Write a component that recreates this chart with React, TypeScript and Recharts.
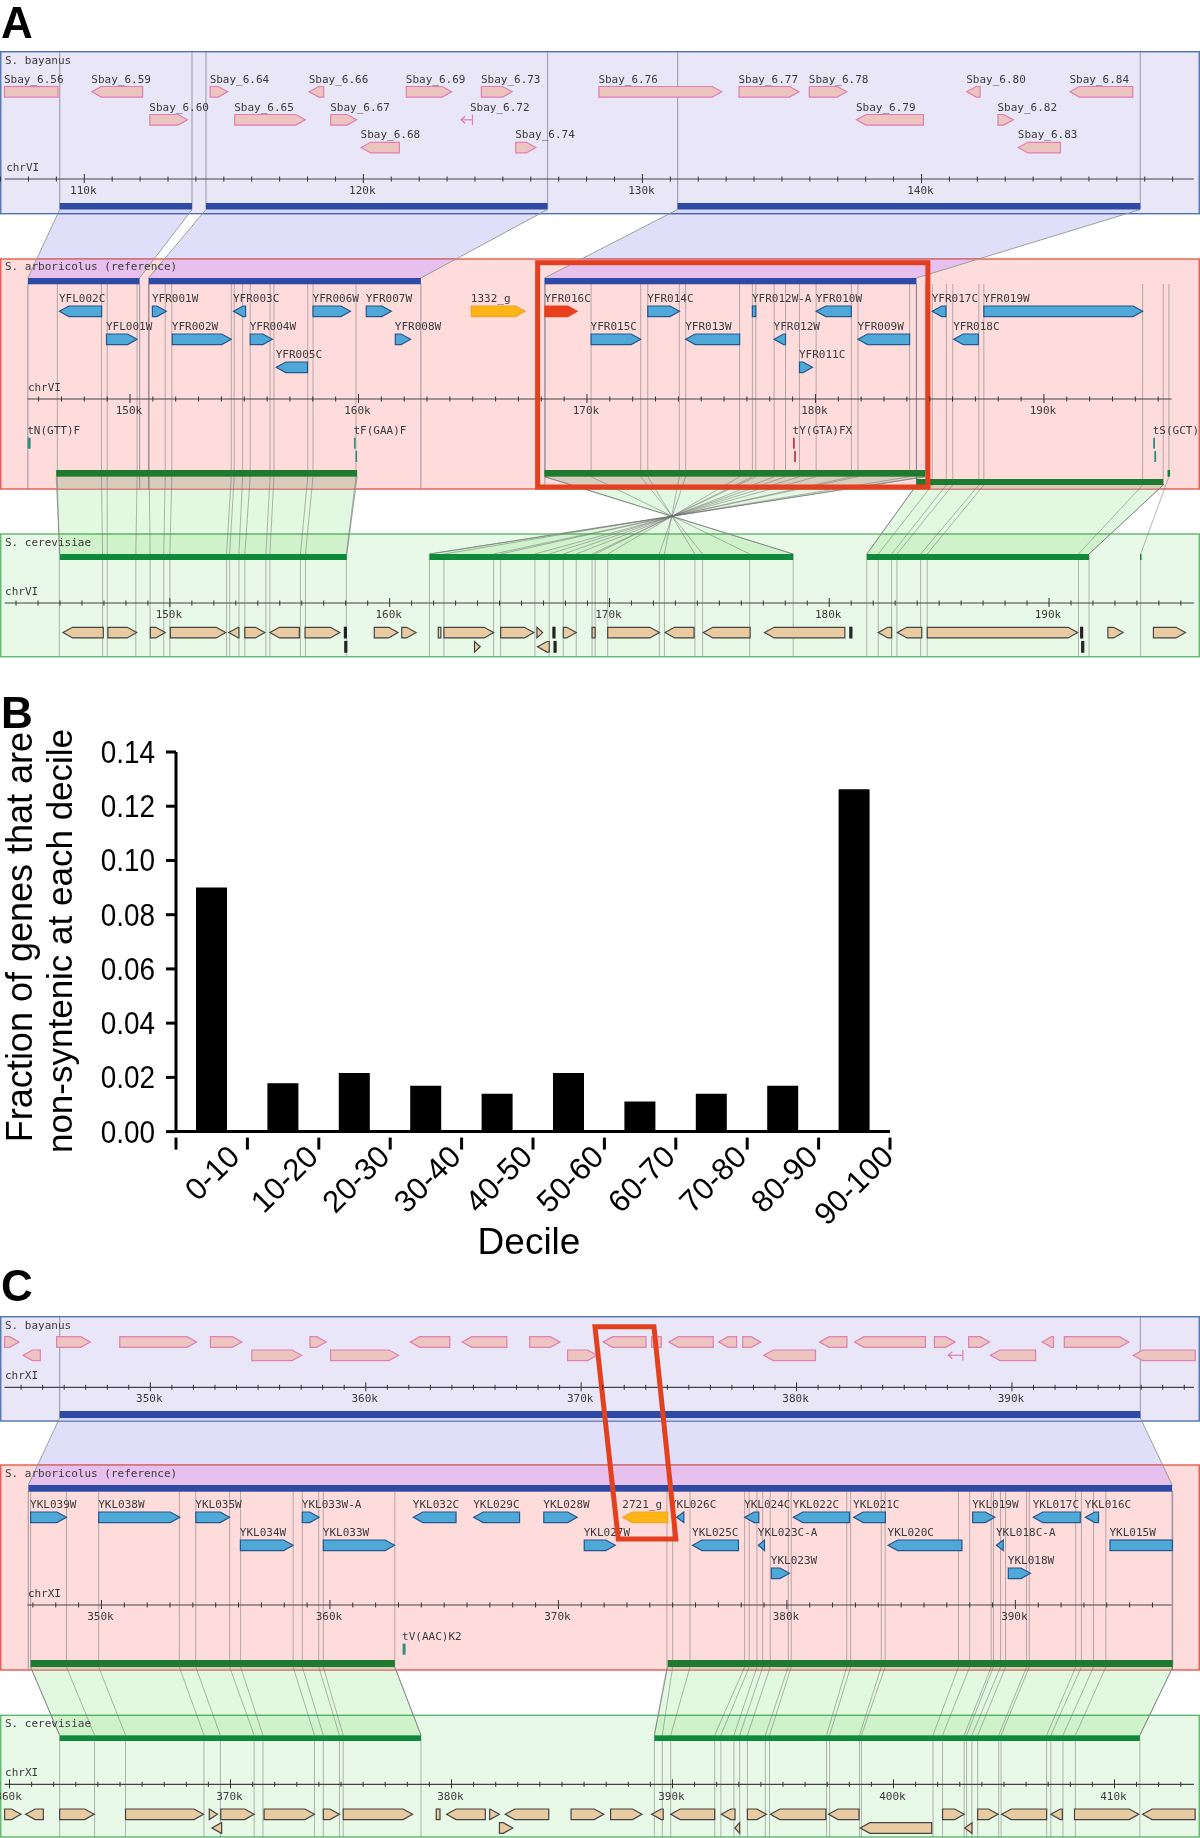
import React from "react";
import {
  Bar,
  BarChart,
  ComposedChart,
  ReferenceArea,
  XAxis,
  YAxis,
} from "recharts";

// ---- panel B values
const deciles = ["0-10", "10-20", "20-30", "30-40", "40-50", "50-60", "60-70", "70-80", "80-90", "90-100"];
const fractions = [0.09, 0.0178, 0.0216, 0.0169, 0.014, 0.0216, 0.0111, 0.014, 0.0169, 0.1263];
const fractionTicks = [0, 0.02, 0.04, 0.06, 0.08, 0.1, 0.12, 0.14];

// ---- genes: [name, start kb, end kb, strand, lane, label kb (optional)]
type Gene = [string, number, number, string, number, number?];

const bayGenesA: Gene[] = [
  ["Sbay_6.56", 107.14, 109.06, ".", 0],
  ["Sbay_6.59", 110.27, 112.09, "-", 0],
  ["Sbay_6.60", 112.35, 113.7, "+", 1],
  ["Sbay_6.64", 114.51, 115.14, "+", 0],
  ["Sbay_6.65", 115.39, 117.92, "+", 1],
  ["Sbay_6.66", 118.06, 118.58, "-", 0],
  ["Sbay_6.67", 118.83, 119.76, "+", 1],
  ["Sbay_6.68", 119.92, 121.29, "-", 2],
  ["Sbay_6.69", 121.54, 123.16, "+", 0],
  ["Sbay_6.72", 123.5, 123.91, "t", 1, 123.82],
  ["Sbay_6.73", 124.23, 125.33, "+", 0],
  ["Sbay_6.74", 125.46, 126.18, "+", 2],
  ["Sbay_6.76", 128.44, 132.84, "+", 0],
  ["Sbay_6.77", 133.46, 135.61, "+", 0],
  ["Sbay_6.78", 135.98, 137.32, "+", 0],
  ["Sbay_6.79", 137.67, 140.07, "-", 1],
  ["Sbay_6.80", 141.62, 142.1, "-", 0],
  ["Sbay_6.82", 142.74, 143.29, "+", 1],
  ["Sbay_6.83", 143.47, 144.98, "-", 2],
  ["Sbay_6.84", 145.32, 147.57, "-", 0],
];

const arbGenesA: Gene[] = [
  ["YFL002C", 146.91, 148.76, "-", 0],
  ["YFL001W", 148.97, 150.31, "+", 1],
  ["YFR001W", 150.98, 151.59, "+", 0],
  ["YFR002W", 151.85, 154.43, "+", 1],
  ["YFR003C", 154.53, 155.06, "-", 0],
  ["YFR004W", 155.26, 156.23, "+", 1],
  ["YFR005C", 156.4, 157.77, "-", 2],
  ["YFR006W", 158.01, 159.65, "+", 0],
  ["YFR007W", 160.34, 161.44, "+", 0],
  ["YFR008W", 161.61, 162.28, "+", 1],
  ["1332_g", 164.94, 167.29, "+", 0],
  ["YFR016C", 168.16, 169.57, "+", 0],
  ["YFR015C", 170.18, 172.35, "+", 1],
  ["YFR014C", 172.66, 174.05, "+", 0],
  ["YFR013W", 174.32, 176.68, "-", 1],
  ["YFR012W-A", 177.24, 177.39, ".", 0],
  ["YFR012W", 178.19, 178.69, "-", 1],
  ["YFR010W", 180.03, 181.57, "-", 0],
  ["YFR011C", 179.3, 179.87, "+", 2],
  ["YFR009W", 181.86, 184.12, "-", 1],
  ["YFR017C", 185.11, 185.71, "-", 0],
  ["YFR018C", 186.05, 187.13, "-", 1],
  ["YFR019W", 187.37, 194.32, "+", 0],
];

const cerGenesA: Gene[] = [
  ["", 145.14, 146.97, "-", 0],
  ["", 147.18, 148.49, "+", 0],
  ["", 149.11, 149.79, "+", 0],
  ["", 150.02, 152.54, "+", 0],
  ["", 152.68, 153.14, "-", 0],
  ["", 153.41, 154.32, "+", 0],
  ["", 154.55, 155.89, "-", 0],
  ["", 156.15, 157.73, "+", 0],
  ["", 157.94, 158.03, "|", 0],
  ["", 157.96, 158.05, "|", 1],
  ["", 159.3, 160.38, "+", 0],
  ["", 160.55, 161.2, "+", 0],
  ["", 162.21, 162.33, ".", 0],
  ["", 162.47, 164.73, "+", 0],
  ["", 163.86, 164.12, "+", 1],
  ["", 165.05, 166.56, "+", 0],
  ["", 166.7, 166.96, "+", 0],
  ["", 166.73, 167.26, "-", 1],
  ["", 167.43, 167.52, "|", 0],
  ["", 167.48, 167.57, "|", 1],
  ["", 167.9, 168.49, "+", 0],
  ["", 169.21, 169.35, ".", 0],
  ["", 169.92, 172.27, "+", 0],
  ["", 172.53, 173.85, "-", 0],
  ["", 174.27, 176.4, "-", 0],
  ["", 177.06, 180.71, "-", 0],
  ["", 180.94, 181.03, "|", 0],
  ["", 182.23, 182.84, "-", 0],
  ["", 183.1, 184.21, "-", 0],
  ["", 184.46, 191.3, "+", 0],
  ["", 191.44, 191.53, "|", 0],
  ["", 191.49, 191.58, "|", 1],
  ["", 192.68, 193.37, "+", 0],
  ["", 194.75, 196.21, "+", 0],
];

const bayGenesC: Gene[] = [
  ["", 343.23, 343.91, "+", 0],
  ["", 345.65, 347.21, "+", 0],
  ["", 348.58, 352.14, "+", 0],
  ["", 352.79, 354.25, "+", 0],
  ["", 357.41, 358.16, "+", 0],
  ["", 362.07, 363.9, "-", 0],
  ["", 364.48, 366.55, "-", 0],
  ["", 367.61, 369.01, "+", 0],
  ["", 344.09, 344.89, "-", 1],
  ["", 354.71, 357.02, "+", 1],
  ["", 358.37, 361.52, "+", 1],
  ["", 369.37, 370.74, "+", 1],
  ["", 371.02, 373.01, "-", 0],
  ["", 373.27, 373.72, ".", 0],
  ["", 374.07, 376.13, "-", 0],
  ["", 376.38, 377.22, "-", 0],
  ["", 377.5, 378.34, "+", 0],
  ["", 381.07, 382.34, "-", 0],
  ["", 382.69, 385.98, "-", 0],
  ["", 386.4, 387.36, "+", 0],
  ["", 387.99, 388.96, "+", 0],
  ["", 391.4, 391.93, "-", 0],
  ["", 392.43, 395.43, "+", 0],
  ["", 378.48, 380.88, "-", 1],
  ["", 387.04, 387.72, "t", 1],
  ["", 389.0, 391.1, "-", 1],
  ["", 395.63, 398.51, "-", 1],
];

const arbGenesC: Gene[] = [
  ["YKL039W", 346.9, 348.47, "+", 0],
  ["YKL038W", 349.88, 353.43, "+", 0],
  ["YKL035W", 354.13, 355.61, "+", 0],
  ["YKL034W", 356.08, 358.39, "+", 1],
  ["YKL033W-A", 358.79, 359.53, "+", 0],
  ["YKL033W", 359.71, 362.83, "+", 1],
  ["YKL032C", 363.65, 365.52, "-", 0],
  ["YKL029C", 366.29, 368.3, "-", 0],
  ["YKL028W", 369.36, 370.82, "+", 0],
  ["YKL027W", 371.13, 372.49, "+", 1],
  ["2721_g", 372.82, 374.78, "-", 0],
  ["YKL026C", 375.17, 375.49, "-", 0, 374.88],
  ["YKL025C", 375.87, 377.88, "-", 1],
  ["YKL024C", 378.15, 378.77, "-", 0],
  ["YKL023C-A", 378.75, 379.02, "-", 1],
  ["YKL023W", 379.32, 380.11, "+", 2],
  ["YKL022C", 380.28, 382.74, "-", 0],
  ["YKL021C", 382.92, 384.31, "-", 0],
  ["YKL020C", 384.43, 387.66, "-", 1],
  ["YKL019W", 388.13, 389.1, "+", 0],
  ["YKL018C-A", 389.17, 389.47, "-", 1],
  ["YKL018W", 389.69, 390.66, "+", 2],
  ["YKL017C", 390.78, 392.84, "-", 0],
  ["YKL016C", 393.06, 393.64, "-", 0],
  ["YKL015W", 394.14, 396.87, ".", 1],
];

const cerGenesC: Gene[] = [
  ["", 359.78, 360.52, "+", 0],
  ["", 360.73, 361.53, "-", 0],
  ["", 362.27, 363.83, "+", 0],
  ["", 365.25, 368.78, "+", 0],
  ["", 369.04, 369.41, "+", 0],
  ["", 369.56, 371.07, "+", 0],
  ["", 371.52, 373.8, "+", 0],
  ["", 374.2, 374.93, "+", 0],
  ["", 375.1, 378.24, "+", 0],
  ["", 379.31, 379.48, ".", 0],
  ["", 379.78, 381.53, "-", 0],
  ["", 381.73, 382.17, "+", 0],
  ["", 382.43, 384.4, "-", 0],
  ["", 385.41, 386.89, "+", 0],
  ["", 387.2, 388.62, "+", 0],
  ["", 389.06, 389.58, "-", 0],
  ["", 389.92, 391.91, "-", 0],
  ["", 392.21, 392.83, "-", 0],
  ["", 393.39, 394.25, "+", 0],
  ["", 394.43, 396.94, "-", 0],
  ["", 397.06, 398.44, "-", 0],
  ["", 402.22, 403.2, "+", 0],
  ["", 403.81, 404.73, "+", 0],
  ["", 404.9, 406.93, "-", 0],
  ["", 407.12, 407.64, "-", 0],
  ["", 408.19, 411.1, "+", 0],
  ["", 411.27, 413.65, "-", 0],
  ["", 369.16, 369.6, "-", 1],
  ["", 382.17, 382.77, "+", 1],
  ["", 392.82, 393.04, "-", 1],
  ["", 398.5, 401.73, "-", 1],
  ["", 403.22, 403.55, "-", 1],
];

// tRNA marks: [name, start kb, end kb, lane, kind]
type Trna = [string, number, number, number, string];
const trnasA: Trna[] = [
  ["tN(GTT)F", 145.52, 145.65, 0, "t"],
  ["tF(GAA)F", 159.8, 159.87, 0, "t"],
  ["", 159.87, 159.94, 1, "t"],
  ["tY(GTA)FX", 179.02, 179.09, 0, "r"],
  ["", 179.07, 179.14, 1, "r"],
  ["tS(GCT)", 194.78, 194.86, 0, "t"],
  ["", 194.83, 194.91, 1, "t"],
];
const trnasC: Trna[] = [["tV(AAC)K2", 363.18, 363.31, 0, "t"]];

// synteny blocks: [start kb, end kb, level]
type Block = [number, number, number];
const bayBlocksA: Block[] = [[109.12, 113.86, 0], [114.36, 126.6, 0], [131.26, 147.84, 0]];
const arbTopBlocksA: Block[] = [[145.53, 150.42, 0], [150.81, 162.73, 0], [168.14, 184.42, 0]];
const arbLowBlocksA: Block[] = [[146.77, 159.94, 0], [168.14, 184.81, 0], [184.42, 195.22, 1], [195.41, 195.52, 0]];
const cerBlocksA: Block[] = [[144.99, 158.05, 0], [161.81, 178.36, 0], [181.71, 191.82, 0], [194.14, 194.21, 0]];
const bayBlocksC: Block[] = [[345.79, 395.96, 0]];
const arbTopBlocksC: Block[] = [[346.8, 396.86, 0]];
const arbLowBlocksC: Block[] = [[346.9, 362.84, 0], [374.78, 396.89, 0]];
const cerBlocksC: Block[] = [[362.27, 378.62, 0], [389.18, 411.15, 0]];

// ribbons between tracks: [upper start, upper end, lower start, lower end, level]
type Link = [number, number, number, number, number];
const bayArbLinksA: Link[] = [
  [109.12, 113.86, 145.53, 150.42, 0],
  [114.36, 126.6, 150.81, 162.73, 0],
  [131.26, 147.84, 168.14, 184.42, 0],
];
const arbCerLinksA: Link[] = [
  [146.77, 159.94, 144.99, 158.05, 0],
  [168.14, 184.81, 178.36, 161.81, 0],
  [184.42, 195.22, 181.71, 191.82, 1],
];
const bayArbLinksC: Link[] = [[345.79, 395.96, 346.8, 396.86, 0]];
const arbCerLinksC: Link[] = [
  [346.9, 362.84, 362.27, 378.62, 0],
  [374.78, 396.89, 389.18, 411.15, 0],
];

// orthologous boundaries: [arboricolus kb, cerevisiae kb, level]
const orthologsA: [number, number, number][] = [
  [146.82, 144.97, 0], [148.75, 146.94, 0], [149.0, 147.15, 0], [150.31, 148.45, 0],
  [150.84, 149.1, 0], [151.54, 149.72, 0], [151.83, 150.0, 0], [154.43, 152.58, 0],
  [154.56, 152.72, 0], [154.93, 153.14, 0], [155.26, 153.41, 0], [156.13, 154.37, 0],
  [156.3, 154.55, 0], [157.78, 155.94, 0], [158.01, 156.17, 0], [159.89, 158.03, 0],
  [168.16, 178.36, 0], [170.18, 176.38, 0], [172.35, 174.24, 0], [172.66, 173.89, 0],
  [174.04, 172.5, 0], [174.32, 172.27, 0], [176.68, 169.92, 0], [177.24, 169.35, 0],
  [177.39, 169.21, 0], [178.19, 168.49, 0], [178.69, 167.9, 0], [179.3, 167.26, 0],
  [180.03, 166.61, 0], [181.57, 165.05, 0], [181.86, 164.73, 0], [184.12, 162.47, 0],
  [184.81, 161.81, 0],
  [184.42, 181.71, 1], [185.11, 182.23, 1], [185.73, 182.84, 1], [186.01, 183.08, 1],
  [187.15, 184.16, 1], [187.37, 184.46, 1], [194.32, 191.34, 1], [195.22, 191.82, 1],
  [195.47, 194.17, 0],
];
const orthologsC: [number, number, number][] = [
  [346.9, 362.27, 0], [348.47, 363.85, 0], [349.88, 365.25, 0], [353.41, 368.8, 0],
  [354.13, 369.54, 0], [355.61, 371.07, 0], [356.09, 371.47, 0], [358.39, 373.8, 0],
  [358.79, 374.2, 0], [359.51, 374.93, 0], [359.71, 375.1, 0], [362.84, 378.62, 0],
  [374.75, 389.18, 0], [375.0, 389.54, 0], [375.76, 389.92, 0], [378.15, 391.91, 0],
  [378.35, 392.19, 0], [378.69, 392.78, 0], [378.94, 393.04, 0], [379.27, 393.39, 0],
  [380.06, 394.2, 0], [380.19, 394.39, 0], [382.62, 396.97, 0], [382.79, 397.11, 0],
  [384.13, 398.46, 0], [384.3, 398.55, 0], [387.51, 401.79, 0], [388.0, 402.22, 0],
  [388.94, 403.2, 0], [389.04, 403.31, 0], [389.35, 403.55, 0], [389.57, 403.81, 0],
  [390.49, 404.76, 0], [390.61, 404.87, 0], [392.64, 406.93, 0], [392.89, 407.12, 0],
  [393.42, 407.67, 0], [393.96, 408.23, 0], [396.89, 411.15, 0],
];

const W = 1200;
const MONO = "'DejaVu Sans Mono', monospace";
const SANS = "'Liberation Sans', Arial, sans-serif";

const kbTicks = (from: number, to: number) => {
  const out: number[] = [];
  for (let k = from; k <= to; k++) out.push(k);
  return out;
};

const PALETTES: any = {
  bay: { fill: "#ecc4c0", stroke: "#e07fb0", panel: "#e9e6f8", edge: "#4f74b4", bar: "#2f4aa4" },
  arb: { fill: "#4ea8d8", stroke: "#25568c", panel: "#ffdcdc", edge: "#e65a50", bar: "#2f4aa4" },
  cer: { fill: "#e8cba0", stroke: "#444444", panel: "#e9f9e7", edge: "#5cb86c", bar: "#0e8a3a" },
};

const makeTrack = (o: any) => ({ ...o, pal: PALETTES[o.kind] });

const bayA = makeTrack({
  id: "bayA", kind: "bay", title: "S. bayanus", chr: "chrVI", domain: [106.98, 149.98],
  box: [51.7, 213.7], titleY: 64, rows: [86.5, 114.5, 142.3], chrY: 171, rulerY: 179, tickY: 194,
  chrKb: 107.2, ruler: [107.15, 149.76], ticks: kbTicks(107, 149), majors: [110, 120, 130, 140],
  genes: bayGenesA, blocks: bayBlocksA, blockY: [[203, 209.5]],
});
const arbA = makeTrack({
  id: "arbA", kind: "arb", title: "S. arboricolus (reference)", chr: "chrVI", domain: [144.31, 196.83],
  box: [259, 489], titleY: 270, rows: [306, 334, 362], chrY: 391, rulerY: 399, tickY: 414,
  chrKb: 145.53, ruler: [145.51, 195.59], ticks: kbTicks(146, 195), majors: [150, 160, 170, 180, 190],
  genes: arbGenesA, blocks: arbTopBlocksA, blockY: [[278, 284.3]],
  lowBlocks: arbLowBlocksA, lowY: [[470, 476.7], [479, 485]], trnas: trnasA, trnaLabelY: 434, trnaY: [437.7, 451],
});
const cerA = makeTrack({
  id: "cerA", kind: "cer", title: "S. cerevisiae", chr: "chrVI", domain: [142.27, 196.87],
  box: [534, 656.7], titleY: 546, rows: [627.3, 641.5], chrY: 595, rulerY: 603, tickY: 618,
  chrKb: 142.5, ruler: [142.48, 196.6], ticks: kbTicks(143, 196), majors: [150, 160, 170, 180, 190],
  genes: cerGenesA, blocks: cerBlocksA, blockY: [[554, 560]],
});
const bayC = makeTrack({
  id: "bayC", kind: "bay", title: "S. bayanus", chr: "chrXI", domain: [343.02, 398.73],
  box: [1316.7, 1421], titleY: 1329, rows: [1336.7, 1350], chrY: 1379, rulerY: 1387.3, tickY: 1402,
  chrKb: 343.25, ruler: [343.23, 398.45], ticks: kbTicks(344, 398), majors: [350, 360, 370, 380, 390],
  genes: bayGenesC, blocks: bayBlocksC, blockY: [[1411, 1418]],
});
const arbC = makeTrack({
  id: "arbC", kind: "arb", title: "S. arboricolus (reference)", chr: "chrXI", domain: [345.56, 398.08],
  box: [1465, 1670], titleY: 1477, rows: [1512, 1540, 1568], chrY: 1597, rulerY: 1605, tickY: 1620,
  chrKb: 346.78, ruler: [346.76, 396.84], ticks: kbTicks(347, 396), majors: [350, 360, 370, 380, 390],
  genes: arbGenesC, blocks: arbTopBlocksC, blockY: [[1485, 1491.7]],
  lowBlocks: arbLowBlocksC, lowY: [[1660, 1667]], trnas: trnasC, trnaLabelY: 1640, trnaY: [1643.7],
});
const cerC = makeTrack({
  id: "cerC", kind: "cer", title: "S. cerevisiae", chr: "chrXI", domain: [359.57, 413.87],
  box: [1715.3, 1837], titleY: 1727, rows: [1809, 1822.7], chrY: 1776, rulerY: 1784.3, tickY: 1800,
  chrKb: 359.8, ruler: [359.78, 413.6], ticks: kbTicks(360, 413), majors: [360, 370, 380, 390, 400, 410],
  genes: cerGenesC, blocks: cerBlocksC, blockY: [[1735.3, 1741]],
});

const toX = (t: any, kb: number) => ((kb - t.domain[0]) / (t.domain[1] - t.domain[0])) * W;

const monoText = (x: number, y: number, s: string) => (
  <text x={x} y={y} fontFamily={MONO} fontSize={11} fill="#3a3a3a">{s}</text>
);

// every piece below is a ReferenceArea so the chart's x scales place it
const area = (key: string, t: any, a: number, b: number, y1: number, y2: number, shape: any) => (
  <ReferenceArea key={key} xAxisId={t.id} x1={a} x2={b} y1={y1} y2={y2} ifOverflow="visible" shape={shape} />
);

const panel = (t: any) =>
  area(`panel-${t.id}`, t, t.domain[0], t.domain[1], t.box[0], t.box[1], (p: any) => (
    <rect x={p.x + 0.75} y={p.y} width={p.width - 1.5} height={p.height} fill={t.pal.panel} stroke={t.pal.edge} strokeWidth={1.4} />
  ));

// bands repaint the part of a ribbon that lies over a coloured panel: [y1, y2, fill]
const ribbons = (up: any, low: any, links: Link[], yTop: number[], yBottom: number, fill: string, bands: any[]) =>
  links.map((l, i) =>
    area(`rib-${up.id}-${i}`, up, l[0], l[1], yTop[l[4]], yBottom, (p: any) => {
      const a = toX(low, l[2]);
      const b = toX(low, l[3]);
      const r = p.x + p.width;
      const y0 = p.y;
      const h = p.height;
      const pts = `${p.x},${y0} ${r},${y0} ${b},${y0 + h} ${a},${y0 + h}`;
      return (
        <g>
          <polygon points={pts} fill={fill} style={{ mixBlendMode: "multiply" }} />
          {bands.map((band, j) => {
            const y1 = Math.max(band[0], y0);
            const t1 = (y1 - y0) / h;
            const t2 = (band[1] - y0) / h;
            const lerp = (u: number, v: number, s: number) => u + (v - u) * s;
            if (band[1] <= y1) return null;
            return (
              <polygon
                key={j}
                points={`${lerp(p.x, a, t1)},${y1} ${lerp(r, b, t1)},${y1} ${lerp(r, b, t2)},${band[1]} ${lerp(p.x, a, t2)},${band[1]}`}
                fill={band[2]}
              />
            );
          })}
          <line x1={p.x} y1={y0} x2={a} y2={y0 + h} stroke="#8f9a94" strokeWidth={0.9} />
          <line x1={r} y1={y0} x2={b} y2={y0 + h} stroke="#8f9a94" strokeWidth={0.9} />
        </g>
      );
    }),
  );

const orthoLines = (up: any, low: any, pairs: [number, number, number][], yStart: number, yMid: number[], yLow: number, yEnd: number) =>
  pairs.map((o, i) =>
    area(`ortho-${up.id}-${i}`, up, o[0], o[0], yStart, yEnd, (p: any) => {
      const b = toX(low, o[1]);
      const pts = `${p.x},${yStart} ${p.x},${yMid[o[2]]} ${b},${yLow} ${b},${yEnd}`;
      return <polyline points={pts} fill="none" stroke="#6f6f6f" strokeOpacity={0.5} strokeWidth={1} />;
    }),
  );

const edgeLines = (t: any, kbs: number[], y1: number, y2: number) =>
  kbs.map((kb, i) =>
    area(`edge-${t.id}-${i}`, t, kb, kb, y1, y2, (p: any) => (
      <line x1={p.x} y1={y1} x2={p.x} y2={y2} stroke="#77778a" strokeOpacity={0.6} strokeWidth={1.2} />
    )),
  );

const blocks = (t: any, list: Block[], ys: number[][], fill: string, tag: string) =>
  list.map((b, i) =>
    area(`${tag}-${t.id}-${i}`, t, b[0], b[1], ys[b[2]][0], ys[b[2]][1], (p: any) => (
      <rect x={p.x} y={p.y} width={p.width} height={p.height} fill={fill} />
    )),
  );

const geneColors = (t: any, g: Gene) => {
  if (g[0] === "1332_g" || g[0] === "2721_g") return { fill: "#fdb515", stroke: "#eca52a" };
  if (g[0] === "YFR016C") return { fill: "#e8401c", stroke: "#e8401c" };
  if (g[3] === "|") return { fill: "#222222", stroke: "#222222" };
  return { fill: t.pal.fill, stroke: t.pal.stroke };
};

const genes = (t: any) =>
  t.genes.map((g: Gene, i: number) => {
    const y1 = t.rows[g[4]];
    const { fill, stroke } = geneColors(t, g);
    return area(`gene-${t.id}-${i}`, t, g[1], g[2], y1, y1 + 10.6, (p: any) => {
      const { x, y, width: w, height: h } = p;
      const head = Math.min(9.5, w);
      const mid = y + h / 2;
      let body;
      if (g[3] === "+") {
        body = <polygon points={`${x},${y} ${x + w - head},${y} ${x + w},${mid} ${x + w - head},${y + h} ${x},${y + h}`} fill={fill} stroke={stroke} strokeWidth={1.2} />;
      } else if (g[3] === "-") {
        body = <polygon points={`${x + w},${y} ${x + head},${y} ${x},${mid} ${x + head},${y + h} ${x + w},${y + h}`} fill={fill} stroke={stroke} strokeWidth={1.2} />;
      } else if (g[3] === "t") {
        body = (
          <g fill="none" stroke={stroke} strokeWidth={1.2}>
            <polyline points={`${x + 4},${mid - 3.5} ${x},${mid} ${x + 4},${mid + 3.5}`} />
            <line x1={x} y1={mid} x2={x + w} y2={mid} />
            <line x1={x + w} y1={y} x2={x + w} y2={y + h} />
          </g>
        );
      } else {
        body = <rect x={x} y={y} width={w} height={h} fill={fill} stroke={stroke} strokeWidth={1.2} />;
      }
      return (
        <g>
          {body}
          {g[0] ? monoText(g[5] !== undefined ? toX(t, g[5]) : x - 0.5, y - 4, g[0]) : null}
        </g>
      );
    });
  });

const trnaMarks = (t: any) =>
  t.trnas.map((m: Trna, i: number) =>
    area(`trna-${t.id}-${i}`, t, m[1], m[2], t.trnaY[m[3]], t.trnaY[m[3]] + 11, (p: any) => (
      <g>
        <rect x={p.x} y={p.y} width={Math.max(p.width, 1.6)} height={p.height} fill={m[4] === "r" ? "#b32a3c" : "#2f8f7f"} />
        {m[0] ? monoText(p.x - 0.5, t.trnaLabelY, m[0]) : null}
      </g>
    )),
  );

const ruler = (t: any) =>
  area(`ruler-${t.id}`, t, t.ruler[0], t.ruler[1], t.rulerY, t.rulerY, (p: any) => (
    <g>
      <line x1={p.x} y1={t.rulerY} x2={p.x + p.width} y2={t.rulerY} stroke="#444" strokeWidth={1.2} />
      {monoText(toX(t, t.chrKb), t.chrY, t.chr)}
    </g>
  ));

const titleText = (t: any) =>
  area(`title-${t.id}`, t, t.domain[0], t.domain[1], t.box[0], t.box[1], (p: any) => monoText(p.x + 5, t.titleY, t.title));

const rulerAxis = (t: any) => (
  <XAxis
    key={t.id}
    xAxisId={t.id}
    dataKey="kb"
    type="number"
    scale="linear"
    domain={t.domain}
    allowDataOverflow
    ticks={t.ticks}
    interval={0}
    height={1}
    axisLine={false}
    tickLine={false}
    tick={(p: any) => {
      const v = p.payload.value;
      const major = t.majors.includes(v);
      return (
        <g>
          <line x1={p.x} x2={p.x} y1={t.rulerY - (major ? 5 : 2.5)} y2={t.rulerY + (major ? 4 : 2.5)} stroke="#333" strokeWidth={1} />
          {major ? (
            <text x={p.x - 1} y={t.tickY} textAnchor="middle" fontFamily={MONO} fontSize={11} fill="#3a3a3a">{`${v}k`}</text>
          ) : null}
        </g>
      );
    }}
  />
);

const PURPLE = "rgb(224,222,248)";
const GREEN = "rgb(227,248,224)";

// y units are page pixels; each ruler axis takes one pixel at the bottom of the chart
const TrackFigure = ({ tracks, height, children }: any) => (
  <div style={{ position: "absolute", left: 0, top: 0 }}>
    <ComposedChart
      width={W}
      height={height + tracks.length}
      margin={{ top: 0, right: 0, bottom: 0, left: 0 }}
      data={[{ kb: tracks[0].domain[0] }, { kb: tracks[0].domain[1] }]}
    >
      {tracks.map(rulerAxis)}
      <YAxis hide type="number" domain={[0, height]} reversed allowDataOverflow width={0} />
      {children}
    </ComposedChart>
  </div>
);

const trackBody = (t: any) => [
  ...blocks(t, t.blocks, t.blockY, t.pal.bar, "top"),
  ...(t.lowBlocks ? blocks(t, t.lowBlocks, t.lowY, "#1d7a2e", "low") : []),
  ruler(t),
  ...genes(t),
  ...(t.trnas ? trnaMarks(t) : []),
  titleText(t),
];

const PanelLetter = ({ text, top }: { text: string; top: number }) => (
  <div style={{ position: "absolute", left: 1, top, fontFamily: SANS, fontWeight: 700, fontSize: 44, lineHeight: "44px", color: "#000" }}>
    {text}
  </div>
);

const decileData = deciles.map((d, i) => ({ decile: d, fraction: fractions[i] }));
const STEP = 71.4;

const DecileTick = (p: any) => {
  const nudge = p.index === 0 ? 14 : p.index === 9 ? 25 : 21;
  return (
    <g>
      <line x1={p.x + STEP / 2} x2={p.x + STEP / 2} y1={p.y - 2} y2={p.y + 10} stroke="#000" strokeWidth={3} />
      {p.index === 0 ? <line x1={p.x - STEP / 2} x2={p.x - STEP / 2} y1={p.y - 2} y2={p.y + 10} stroke="#000" strokeWidth={3} /> : null}
      <text
        transform={`translate(${p.x + nudge},${p.y + 3}) rotate(-45)`}
        textAnchor="end"
        dominantBaseline="hanging"
        fontFamily={SANS}
        fontSize={31}
        fill="#000"
      >
        {p.payload.value}
      </text>
    </g>
  );
};

const FractionTick = (p: any) => (
  <text
    transform={`translate(${p.x},${p.y}) scale(0.9,1)`}
    textAnchor="end"
    dominantBaseline="central"
    fontFamily={SANS}
    fontSize={31}
    fill="#000"
  >
    {p.payload.value.toFixed(2)}
  </text>
);

const App = () => (
  <div style={{ position: "absolute", left: 0, top: 0, width: W, height: 1838, background: "#fff", overflow: "hidden" }}>
    <PanelLetter text="A" top={1} />
    <TrackFigure tracks={[bayA, arbA, cerA]} height={670}>
      {panel(bayA)}
      {panel(arbA)}
      {panel(cerA)}
      {ribbons(bayA, arbA, bayArbLinksA, [209.5], 278, PURPLE, [[209.5, 213, "#d8d8f4"], [259.7, 278, "#e8c0ee"]])}
      {ribbons(arbA, cerA, arbCerLinksA, [476.7, 485], 554, GREEN, [[476.7, 488.4, "#d8ccbc"]])}
      {edgeLines(bayA, [109.12, 113.86, 114.36, 126.6, 131.26, 147.84], 52, 209)}
      {edgeLines(arbA, [145.53, 150.42, 150.81, 162.73, 168.16, 184.42], 284, 489)}
      {orthoLines(arbA, cerA, orthologsA, 284, [476.7, 485], 554, 656)}
      {trackBody(bayA)}
      {trackBody(arbA)}
      {trackBody(cerA)}
      {area("callout-a", arbA, 167.84, 184.92, 262.7, 487, (p: any) => (
        <rect x={p.x} y={p.y} width={p.width} height={p.height} fill="none" stroke="#e2401f" strokeWidth={5} />
      ))}
    </TrackFigure>

    <PanelLetter text="B" top={691} />
    <div style={{ position: "absolute", left: 0, top: 690 }}>
      <BarChart
        width={920}
        height={600}
        data={decileData}
        margin={{ top: 62, right: 30, bottom: 38.4, left: 0 }}
        barSize={31}
      >
        <XAxis
          dataKey="decile"
          interval={0}
          height={120}
          tickLine={false}
          axisLine={{ stroke: "#000", strokeWidth: 3 }}
          tick={<DecileTick />}
        />
        <YAxis
          type="number"
          domain={[0, 0.14]}
          ticks={fractionTicks}
          width={176}
          interval={0}
          tickSize={10}
          tickMargin={11}
          axisLine={{ stroke: "#000", strokeWidth: 3 }}
          tickLine={{ stroke: "#000", strokeWidth: 3 }}
          tick={<FractionTick />}
        />
        <Bar dataKey="fraction" fill="#000" isAnimationActive={false} />
      </BarChart>
      <svg width={920} height={600} style={{ position: "absolute", left: 0, top: 0, pointerEvents: "none" }}>
        <text transform="translate(32,247) rotate(-90)" textAnchor="middle" fontFamily={SANS} fontSize={36} fill="#000">
          Fraction of genes that are
        </text>
        <text transform="translate(72,251) rotate(-90)" textAnchor="middle" fontFamily={SANS} fontSize={35} fill="#000">
          non-syntenic at each decile
        </text>
        <text x={529} y={564} textAnchor="middle" fontFamily={SANS} fontSize={37} fill="#000">
          Decile
        </text>
      </svg>
    </div>

    <PanelLetter text="C" top={1264} />
    <TrackFigure tracks={[bayC, arbC, cerC]} height={1838}>
      {panel(bayC)}
      {panel(arbC)}
      {panel(cerC)}
      {ribbons(bayC, arbC, bayArbLinksC, [1418], 1485, PURPLE, [[1418, 1420.5, "#d8d8f4"], [1465.7, 1485, "#e8c0ee"]])}
      {ribbons(arbC, cerC, arbCerLinksC, [1667], 1735.3, GREEN, [[1667, 1669.4, "#d8ccbc"]])}
      {edgeLines(bayC, [345.79, 395.96], 1317, 1418)}
      {edgeLines(arbC, [346.8, 396.86], 1491, 1670)}
      {orthoLines(arbC, cerC, orthologsC, 1491, [1667], 1735.3, 1837)}
      {trackBody(bayC)}
      {trackBody(arbC)}
      {trackBody(cerC)}
      {area("callout-c", arbC, 371.6, 374.18, 1326.7, 1539, (p: any) => {
        const a = toX(arbC, 372.62);
        const b = toX(arbC, 375.14);
        return (
          <polygon
            points={`${p.x},${p.y} ${p.x + p.width},${p.y} ${b},${p.y + p.height} ${a},${p.y + p.height}`}
            fill="none"
            stroke="#e2401f"
            strokeWidth={5}
          />
        );
      })}
    </TrackFigure>
  </div>
);

export default App;
